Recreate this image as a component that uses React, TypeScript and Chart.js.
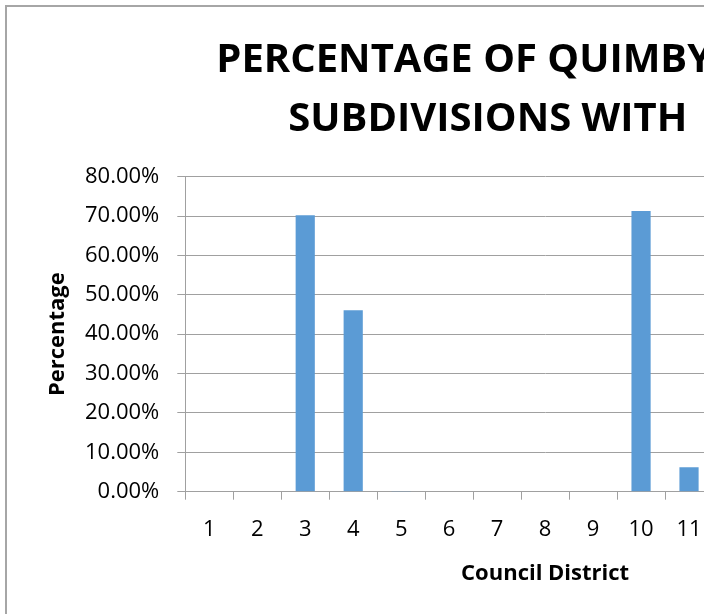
import { useEffect, useRef } from "react";
import { Chart, registerables } from "chart.js";

Chart.register(...registerables);

// ---- data ----
const DISTRICTS = ["1", "2", "3", "4", "5", "6", "7", "8", "9", "10", "11", "12", "13", "14", "15"];
const PERCENTAGES = [0, 0, 0.702, 0.461, 0.002, 0, 0, 0, 0, 0.713, 0.062, 0, 0, 0, 0];
const Y_MIN = 0;
const Y_MAX = 0.8;
const Y_STEP = 0.1;
const TITLE_LINES = ["PERCENTAGE OF QUIMBY", "SUBDIVISIONS WITH"];
const X_TITLE = "Council District";
const Y_TITLE = "Percentage";

const GRID = "#a0a0a0";
const BAR = "#5b9bd5";
const FONT = "'Open Sans', 'Noto Sans', sans-serif";

const CANVAS_W = 918;
const CANVAS_H = 607;

const titlePlugin = {
  id: "clippedTitle",
  afterDraw(chart: any) {
    const { ctx, chartArea } = chart;
    ctx.save();
    ctx.font = `bold 40px ${FONT}`;
    ctx.fillStyle = "#000";
    ctx.textAlign = "left";
    ctx.textBaseline = "alphabetic";
    ctx.fillText(TITLE_LINES[0], chartArea.left + 31, chartArea.top - 105);
    ctx.fillText(TITLE_LINES[1], chartArea.left + 103, chartArea.top - 45.7);
    ctx.restore();
  },
};

export default function App() {
  const ref = useRef<HTMLCanvasElement | null>(null);

  useEffect(() => {
    if (!ref.current) return;
    Chart.defaults.font.family = FONT;
    const chart = new Chart(ref.current, {
      type: "bar",
      data: {
        labels: DISTRICTS,
        datasets: [
          {
            data: PERCENTAGES,
            backgroundColor: BAR,
            borderWidth: 0,
            barPercentage: 0.4,
            categoryPercentage: 1.0,
          },
        ],
      },
      options: {
        animation: false,
        responsive: false,
        devicePixelRatio: 1,
        layout: { padding: { left: 0, top: 169.7, right: 20.1, bottom: 27.5 } },
        plugins: {
          legend: { display: false },
          title: { display: false },
          tooltip: { enabled: false },
        },
        scales: {
          x: {
            type: "category",
            grid: { offset: true, drawOnChartArea: false, tickLength: 8, color: GRID, lineWidth: 1 },
            border: { color: GRID, width: 1 },
            ticks: { padding: 17, color: "#000", font: { size: 22 }, maxRotation: 0, autoSkip: false },
            title: { display: true, text: X_TITLE, color: "#000", font: { size: 22, weight: "bold" }, padding: 0 },
            afterFit(s: any) {
              s.height = 94.8;
            },
          },
          y: {
            min: Y_MIN,
            max: Y_MAX,
            ticks: {
              stepSize: Y_STEP,
              padding: 18,
              color: "#000",
              font: { size: 22 },
              callback: (v: any) => (Number(v) * 100).toFixed(2) + "%",
            },
            grid: { color: GRID, tickLength: 8, lineWidth: 1 },
            border: { color: GRID, width: 1 },
            title: { display: true, text: Y_TITLE, color: "#000", font: { size: 22, weight: "bold" }, padding: { top: 38, bottom: 0 } },
            afterFit(s: any) {
              s.width = 178.3;
            },
          },
        },
      },
      plugins: [titlePlugin],
    } as any);
    return () => chart.destroy();
  }, []);

  return (
    <div style={{ position: "fixed", left: 0, top: 0, width: 704, height: 614, overflow: "hidden", background: "#fff" }}>
      <div
        style={{
          position: "absolute",
          left: 5,
          top: 5,
          width: CANVAS_W,
          height: CANVAS_H,
          borderLeft: "2px solid #a6a6a6",
          borderTop: "2px solid #a6a6a6",
        }}
      >
        <canvas ref={ref} width={CANVAS_W} height={CANVAS_H} style={{ display: "block" }} />
      </div>
    </div>
  );
}
